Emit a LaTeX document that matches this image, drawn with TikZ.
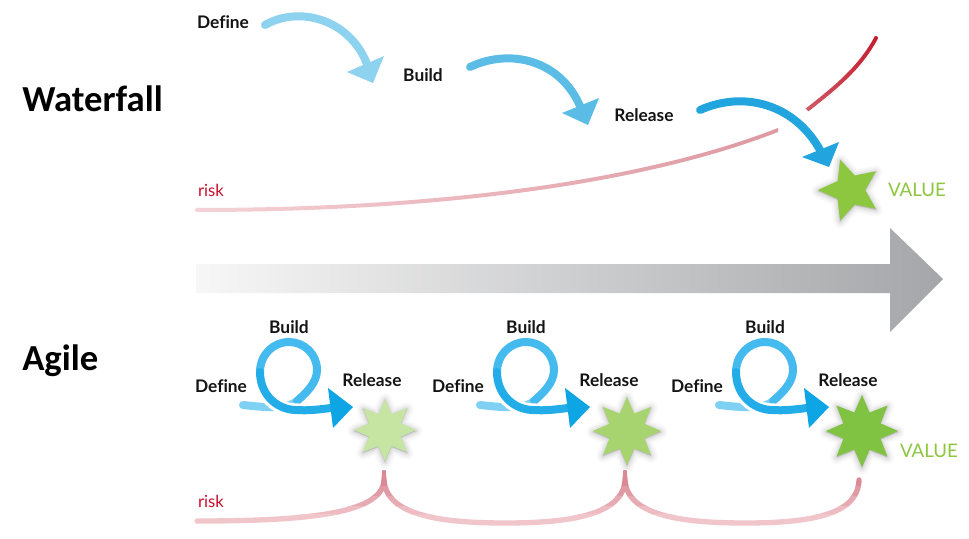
\documentclass[tikz,border=0pt]{standalone}
\usepackage{fontspec}
\setmainfont{Lato}[Ligatures=NoCommon]
\newfontfamily\titlefont{Carlito}
\usetikzlibrary{shapes.geometric}
\definecolor{blueA}{HTML}{8DD3F0}
\definecolor{blueB}{HTML}{5BBDE6}
\definecolor{blueC}{HTML}{22A5DE}
\definecolor{loopTail}{HTML}{7FD1F4}
\definecolor{loopMid}{HTML}{45BAEE}
\definecolor{loopEnd}{HTML}{22ADE8}
\definecolor{loopHead}{HTML}{0EA5E5}
\definecolor{riskred}{HTML}{C8102E}
\definecolor{riskL}{HTML}{F5D2D6}
\definecolor{riskM}{HTML}{DE98A1}
\definecolor{riskU}{HTML}{D15A68}
\definecolor{riskD}{HTML}{C41E2E}
\definecolor{valgreen}{HTML}{8DC63F}
\definecolor{starA}{HTML}{C6E4A2}
\definecolor{starB}{HTML}{A8D46F}
\definecolor{starC}{HTML}{80C241}
\definecolor{arrowL}{HTML}{F7F7F7}
\definecolor{arrowR}{HTML}{A5A6A9}
\begin{document}
\begin{tikzpicture}[x=0.75pt,y=-0.75pt,
  lbl/.style={font=\fontsize{13}{15}\selectfont\bfseries, text=black!92, inner sep=0},
  ttl/.style={font=\titlefont\fontsize{27.5}{32}\selectfont\bfseries, inner sep=0, anchor=base west},
  risklbl/.style={font=\fontsize{12.5}{15}\selectfont, text=riskred, inner sep=0},
  valuelbl/.style={font=\fontsize{14}{16}\selectfont, text=valgreen, inner sep=0},
  shaft/.style={line width=6pt, line cap=round},
  vstar/.style={star, inner sep=0, draw=none},
  starshade/.style={draw=black, fill=black, line join=round, opacity=#1}]
\fill[white] (0,0) rectangle (969,538);
\useasboundingbox (0,0) rectangle (969,538);

% titles
\node[ttl] (wf) at (22,112) {Waterfall};
\node[ttl] (ag) at (22,370) {Agile};

% big gradient arrow
\shade[left color=arrowL, right color=arrowR]
  (196,264) -- (890,264) -- (890,228) -- (943,279) -- (890,332) -- (890,293) -- (196,293) -- cycle;

% ---------- waterfall ----------
\node[lbl] (wdef) at (223,22) {Define};
\node[lbl] (wbld) at (423,75) {Build};
\node[lbl] (wrel) at (644,115) {Release};
\node[risklbl] (wrisk) at (211,190) {risk};

% risk curve (gradient band)
\shade[left color=riskL, right color=riskM]
  (197,208) .. controls (450,208) and (650,178) .. (778,128) -- (778,132)
  .. controls (650,182) and (450,212) .. (197,212) -- cycle;
\fill[riskL] (197,210) circle (2);
\shade[left color=riskU, right color=riskD]
  (805.6,108.6) .. controls (833.6,86.6) and (858.6,66.6) .. (874.6,36.6) -- (877.4,39.4)
  .. controls (861.4,69.4) and (836.4,89.4) .. (808.4,111.4) -- cycle;
\fill[riskD] (876,38) circle (2);

% blue arrows
\draw[shaft, blueA] (265,25) .. controls (300,5) and (350,20) .. (367,64);
\fill[blueA] (347,72) -- (384,56) -- (373,83) -- cycle;
\draw[shaft, blueB] (470,67) .. controls (510,48) and (560,60) .. (580,106);
\fill[blueB] (562,113) -- (599,98) -- (588,125) -- cycle;
\draw[shaft, blueC] (700,110) .. controls (745,90) and (795,105) .. (820,150);
\fill[blueC] (802,157) -- (839,142) -- (829,167) -- cycle;

% waterfall star with soft shadow
\foreach \w/\op [count=\i] in {10/0.025, 7/0.03, 4.5/0.04, 2/0.05} {
  \node[vstar, star points=5, star point ratio=2.1, shape border rotate=90, minimum size=48pt,
        starshade=\op, line width=\w pt] (wsh\i) at (850,191) {};
}
\node[vstar, star points=5, star point ratio=2.1, shape border rotate=90, minimum size=48pt, fill=valgreen] (wstar) at (850,190) {};
\node[valuelbl] (wval) at (917,190) {VALUE};

% ---------- agile ----------
\foreach \dx/\nm in {0/a, 237/b, 476/c} {
  \begin{scope}[shift={(\dx,0)}]
    \node[lbl] (bld\nm) at (289,327) {Build};
    \node[lbl] (def\nm) at (221,386) {Define};
    \node[lbl] (rel\nm) at (372,380) {Release};
    % tail
    \draw[shaft, loopTail] (243,405) .. controls (270,408) and (288,409) .. (297,401);
    % loop
    \draw[shaft, loopMid] (297,401) .. controls (306,393) and (317,383) .. (317,370)
      .. controls (317,354) and (304,342) .. (289,342)
      .. controls (273,342) and (260,355) .. (260,372);
    \draw[line width=10pt, white] (262,385) .. controls (266,400) and (278,409) .. (295,410)
      .. controls (310,411) and (322,409) .. (330,408);
    \draw[shaft, loopEnd] (260,372) .. controls (260,393) and (275,409) .. (295,410)
      .. controls (310,411) and (322,409) .. (331,408);
    \fill[loopHead] (328,388) -- (353,407) -- (333,428) -- cycle;
  \end{scope}
}
\foreach \cx/\cy/\sz/\sc/\nm in {385/430/46.5pt/starA/a, 627/431/51pt/starB/b, 862/431/54pt/starC/c} {
  \foreach \w/\op [count=\i] in {10/0.025, 7/0.03, 4.5/0.04, 2/0.05} {
    \node[vstar, star points=8, star point ratio=1.8, minimum size=\sz,
          starshade=\op, line width=\w pt] (sh\nm\i) at (\cx,\cy+1) {};
  }
  \node[vstar, star points=8, star point ratio=1.8, minimum size=\sz, fill=\sc] (s\nm) at (\cx,\cy) {};
}
\node[valuelbl] (aval) at (929,451) {VALUE};

% agile risk (vertical colour bands to imitate the gradient)
\node[risklbl] (arisk) at (211,501) {risk};
\foreach \ya/\yb/\cc in {470/486/DB8A95, 486/496/E09AA3, 496/506/E6ABB2, 506/514/EDBBC1, 514/530/F1C6CB} {
  \begin{scope}
    \clip (180,\ya) rectangle (900,\yb);
    \definecolor{bandc}{HTML}{\cc}
    \draw[line width=4pt, bandc, line cap=round]
      (197,521) .. controls (300,521) and (383,515) .. (384,480)
      .. controls (386,515) and (440,523) .. (505,523)
      .. controls (570,523) and (623,515) .. (625,480)
      .. controls (627,515) and (680,523) .. (745,523)
      .. controls (810,523) and (858,515) .. (859,480);
  \end{scope}
}
\end{tikzpicture}
\end{document}
